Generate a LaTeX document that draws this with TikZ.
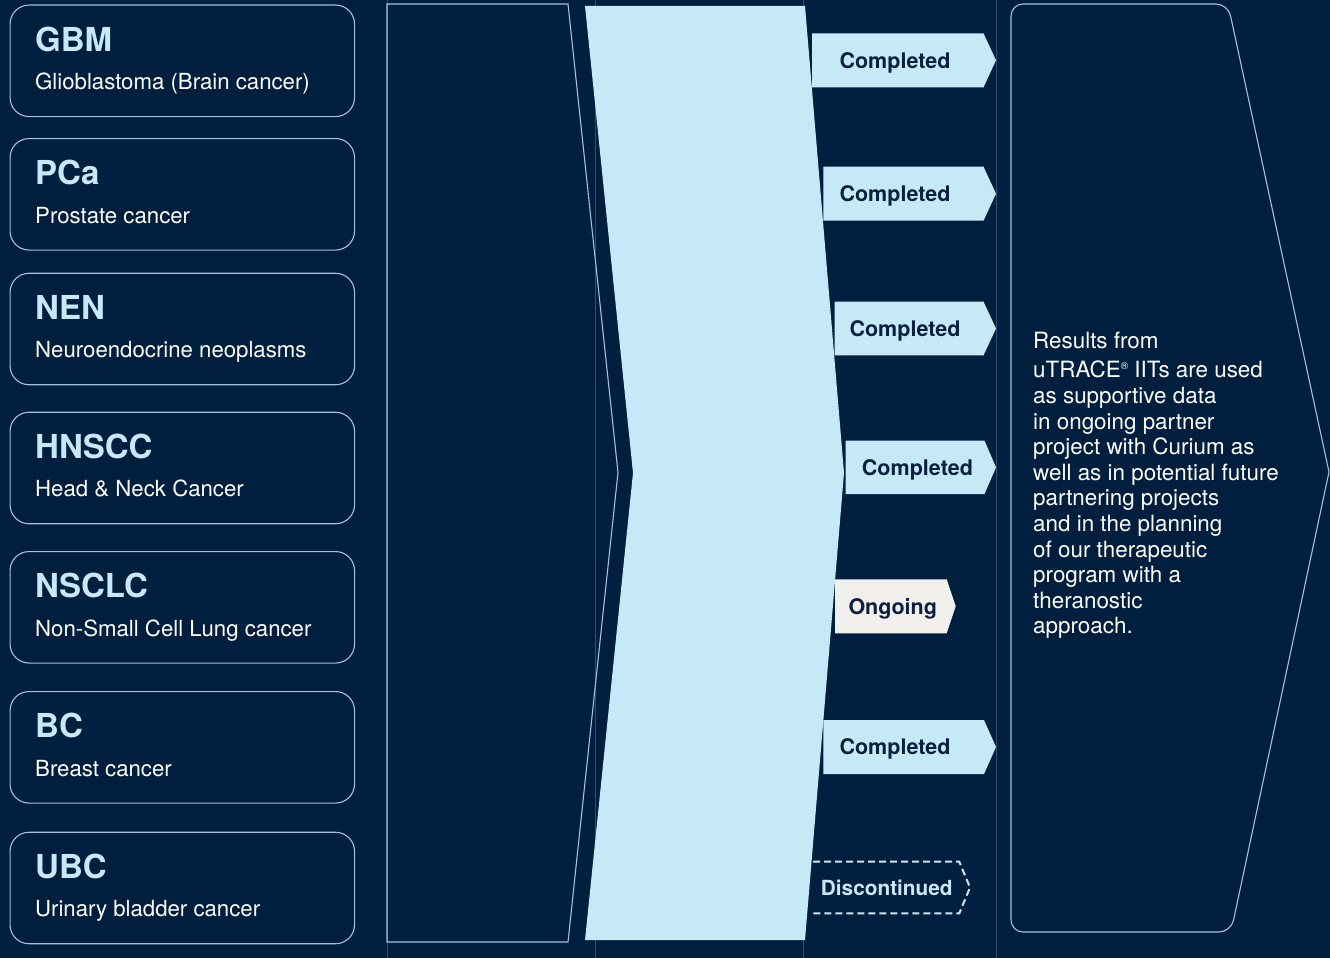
\documentclass[tikz,border=0pt]{standalone}
\usepackage{fontspec}
\setmainfont{TeX Gyre Heros}
\definecolor{navy}{HTML}{001F3E}
\definecolor{ice}{HTML}{C6E9F8}
\definecolor{rim}{HTML}{9EC4E0}
\definecolor{gridline}{HTML}{2F5075}
\definecolor{ink}{HTML}{0B1F3F}
\definecolor{cream}{HTML}{F2F0ED}
\tikzset{
  disease/.style={draw=rim, line width=1.1pt, rounded corners=19pt,
    minimum width=344.5pt, minimum height=111.5pt, inner sep=0pt},
  abbr/.style={anchor=base west, inner sep=0pt, text=ice,
    font=\fontsize{33}{33}\selectfont\bfseries},
  fullname/.style={anchor=base west, inner sep=0pt, text=white,
    font=\fontsize{22.2}{22.2}\selectfont},
  tag/.style={anchor=base west, inner sep=0pt, text=ink,
    font=\fontsize{21.5}{21.5}\selectfont\bfseries},
  completed/.style={fill=ice},
  ongoing/.style={fill=cream},
  halted/.style={draw=ice, line width=2pt, dash pattern=on 7pt off 4pt},
}
\begin{document}
\begin{tikzpicture}[x=1pt,y=-1pt]
\useasboundingbox (0,0) rectangle (1330,958);
\fill[navy] (0,0) rectangle (1330,958);
% faint column lines
\foreach \gx in {387,595,803,996}
  \draw[gridline, line width=1pt] (\gx,0) -- (\gx,958);
% indications
\foreach \top/\abbr/\name [count=\i] in {
    4.5/GBM/Glioblastoma (Brain cancer),
    138/PCa/Prostate cancer,
    272.7/NEN/Neuroendocrine neoplasms,
    411.7/HNSCC/Head \& Neck Cancer,
    551/NSCLC/Non-Small Cell Lung cancer,
    691/BC/Breast cancer,
    831.7/UBC/Urinary bladder cancer}{
  \node[disease, anchor=north west] (box\i) at (9.5,\top) {};
  \node[abbr] (abbr\i) at ([xshift=25.5pt,yshift=-46.8pt]box\i.north west) {\abbr};
  \node[fullname] (name\i) at ([xshift=25.5pt,yshift=-85pt]box\i.north west) {\name};
}
% column outline and band
\draw[rim, line width=1.1pt] (387,942) -- (387,4) -- (568,4) -- (618,472.5) -- (568,942) -- cycle;
\fill[ice] (585,6) -- (805,6) -- (844,473) -- (805,940) -- (585,940) -- (633,473) -- cycle;
% status tags
\foreach \lx/\ty/\by/\fl/\tip/\tx/\lab/\kind [count=\j] in {
    812/33.3/87.3/983.5/996/839.3/Completed/completed,
    823.3/166.7/220.7/983.5/996/839.3/Completed/completed,
    834.5/301.7/355.3/983.5/996/849.3/Completed/completed,
    845.7/440.7/494/984.5/996/861.7/Completed/completed,
    835/579.3/633.3/946.7/955.7/848.3/Ongoing/ongoing,
    823.3/720/774/984/996/839.3/Completed/completed}{
  \fill[\kind] (\lx,\ty) -- (\fl,\ty) -- (\tip,{(\ty+\by)/2}) -- (\fl,\by) -- (\lx,\by) -- cycle;
  \node[tag] (tag\j) at (\tx,{(\ty+\by)/2+7.7}) {\lab};
}
\draw[halted] (813,861.7) -- (959.3,861.7) -- (970,887.5) -- (959.3,913.3) -- (813,913.3);
\node[tag, text=ice, font=\fontsize{20.8}{20.8}\selectfont\bfseries] (tag7) at (820.7,895.2) {Discontinued};
% outcome
\draw[rim, line width=1.1pt] (1329,472) [rounded corners=12pt] -- (1231,932) -- (1011,932)
  -- (1011,4) -- (1228,4) -- (1329,472);
\node[anchor=north west, inner sep=0pt, align=left, text=white,
  font=\fontsize{22.4}{25.6}\selectfont] (outcome) at (1033,332.2)
  {Results from\\[3.4pt]
   uTRACE\raisebox{8pt}{\fontsize{10}{10}\selectfont\textregistered} IITs are used\\
   as supportive data\\
   in ongoing partner\\
   project with Curium as\\
   well as in potential future\\
   partnering projects\\
   and in the planning\\
   of our therapeutic\\
   program with a\\
   theranostic\\
   approach.};
\end{tikzpicture}
\end{document}
